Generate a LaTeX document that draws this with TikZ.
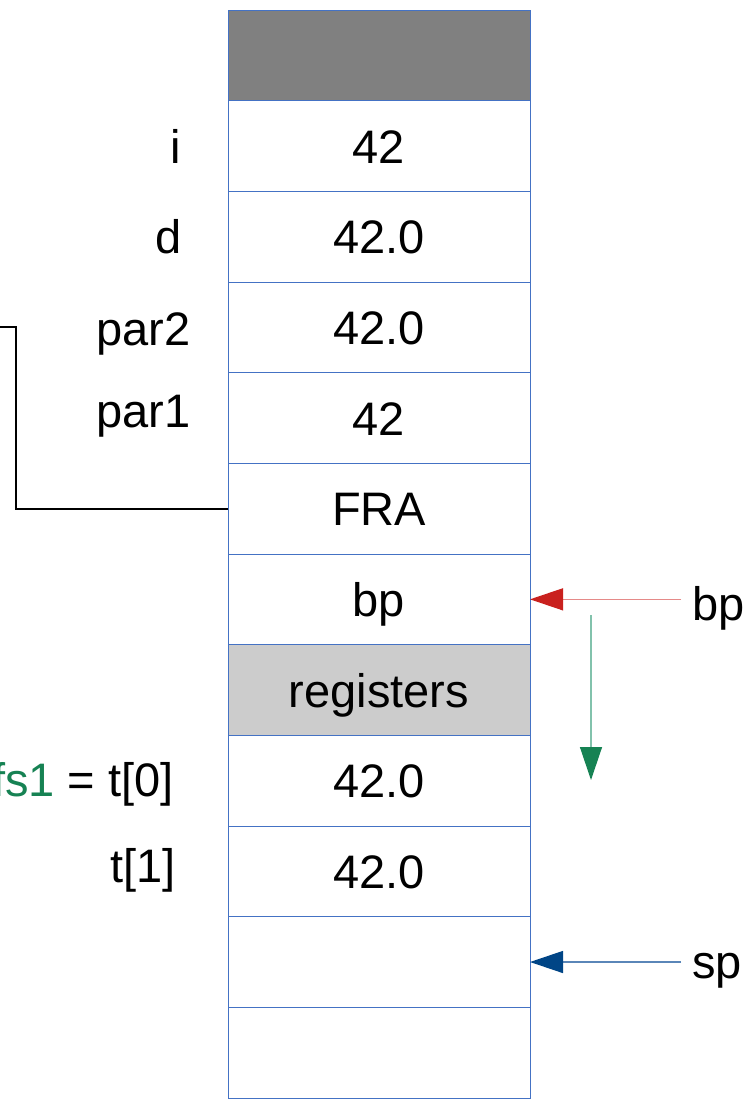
\documentclass[tikz,border=0pt]{standalone}
\usepackage{fontspec}
\setmainfont{Liberation Sans}
\usetikzlibrary{arrows.meta}
\definecolor{cellborder}{HTML}{4472C4}
\definecolor{headred}{HTML}{C9211E}
\definecolor{linered}{HTML}{E58A89}
\definecolor{headgreen}{HTML}{168253}
\definecolor{linegreen}{HTML}{82C2AC}
\definecolor{headblue}{HTML}{004586}
\definecolor{lineblue}{HTML}{5A86B8}
\definecolor{darkcell}{HTML}{808080}
\definecolor{lightcell}{HTML}{CCCCCC}
\begin{document}
\begin{tikzpicture}[x=1pt,y=-1pt,
  cell/.style={draw=cellborder,line width=1pt,minimum width=302pt,minimum height=90.67pt,inner sep=0pt,outer sep=0pt,text height=34pt,text depth=0pt,font=\fontsize{47}{56}\selectfont},
  lbl/.style={inner sep=0pt,font=\fontsize{47}{56}\selectfont},
  ptr/.style={line width=1.3pt}]
\clip (0,0) rectangle (753,1104);
\fill[white] (0,0) rectangle (753,1104);
\node[cell,fill=darkcell] (c0) at (379,55.33) {};
\node[cell] (c1) at (379,146.0) {42};
\node[cell] (c2) at (379,236.67) {42.0};
\node[cell] (c3) at (379,327.33) {42.0};
\node[cell] (c4) at (379,418.0) {42};
\node[cell] (c5) at (379,508.67) {FRA};
\node[cell] (c6) at (379,599.33) {bp};
\node[cell,fill=lightcell] (c7) at (379,690.0) {registers};
\node[cell] (c8) at (379,780.67) {42.0};
\node[cell] (c9) at (379,871.33) {42.0};
\node[cell] (c10) at (379,962.0) {};
\node[cell] (c11) at (379,1052.67) {};
% left labels
\node[lbl,anchor=east] (li) at (181,146) {i};
\node[lbl,anchor=east] (ld) at (182,237) {d};
\node[lbl,anchor=east] (lp2) at (191,334) {par2};
\node[lbl,anchor=east] (lp1) at (191,416) {par1};
\node[lbl,anchor=east] (lt0) at (174,784) {\textcolor{headgreen}{fs1} = t[0]};
\node[lbl,anchor=east] (lt1) at (176,870) {t[1]};
% bracket
\coordinate (b0) at (0,327);
\draw[line width=2pt] (b0) -- (16,327) |- (c5.west);
% right labels and arrows
\node[lbl,anchor=west] (lbp) at (692,608) {bp};
\node[lbl,anchor=west] (lsp) at (692,971) {sp};
\coordinate (rs) at (681,599.33);
\coordinate (ss) at (681,962);
\draw[ptr,draw=linered,-{Triangle[length=33pt,width=22pt,color=headred]}] (rs) -- (c6.east);
\draw[ptr,draw=lineblue,-{Triangle[length=33pt,width=22pt,color=headblue]}] (ss) -- (c10.east);
\coordinate (gs) at (591,615);
\coordinate (ge) at (591,780);
\draw[ptr,draw=linegreen,-{Triangle[length=33pt,width=22pt,color=headgreen]}] (gs) -- (ge);
\end{tikzpicture}
\end{document}
